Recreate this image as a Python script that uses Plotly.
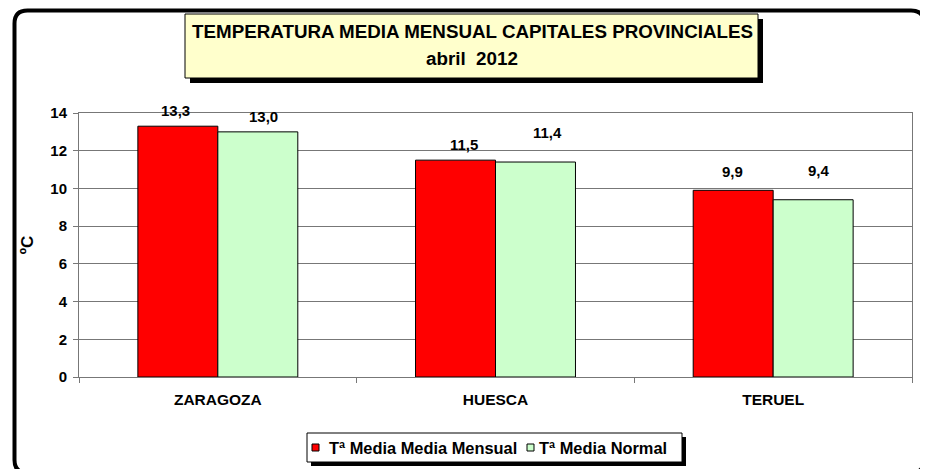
import plotly.graph_objects as go

# ---------------- data ----------------
categories = ["ZARAGOZA", "HUESCA", "TERUEL"]
media_mensual = [13.3, 11.5, 9.9]
media_normal = [13.0, 11.4, 9.4]
series_names = ["Tª Media Media Mensual", "Tª Media Normal"]
title_lines = ["TEMPERATURA MEDIA MENSUAL CAPITALES PROVINCIALES", "abril  2012"]
y_title = "ºC"
y_tickvals = [0, 2, 4, 6, 8, 10, 12, 14]

# ---------------- style ----------------
FONT = "Liberation Sans, Arial, sans-serif"
RED = "#FF0000"
GREEN = "#CCFFCC"
TITLE_FILL = "#FFFFCC"
GRID = "#777777"

OFF = 8  # page body margin
W, H = 920, 461
ML, MR, MT, MB = 71, 16, 105, 92
PW = W - ML - MR
PH = H - MT - MB


def px(x):
    """screen x -> paper"""
    return (x - OFF - ML) / PW


def py(y):
    """screen y -> paper"""
    return (H - MB - (y - OFF)) / PH


fig = go.Figure()
series = [media_mensual, media_normal]
colors = [RED, GREEN]
for vals, name, col in zip(series, series_names, colors):
    fig.add_trace(go.Bar(
        x=categories, y=vals, name=name,
        marker=dict(color=col, line=dict(color="black", width=1)),
        showlegend=False, hoverinfo="x+y",
    ))

# data labels (pixel nudges replicate the original placement)
bar_offset = [-40, 40]
label_dx = [[-2, 8, -1], [6, 12, 6]]
label_dy = [[16, 16, 19], [15, 30, 29]]
annotations = []
for s, vals in enumerate(series):
    for i, (cat, v) in enumerate(zip(categories, vals)):
        annotations.append(dict(
            x=cat, y=v, xref="x", yref="y",
            text=f"{v:.1f}".replace(".", ","),
            showarrow=False, xanchor="center", yanchor="middle",
            xshift=bar_offset[s] + label_dx[s][i], yshift=label_dy[s][i],
            font=dict(family=FONT, size=15, color="black", weight="bold"),
        ))

shapes = []

# outer rounded frame
x0, y0, x1, y1, r = 14.5, 10.5, 924, 473, 13
pts = [
    ("M", (x0 + r, y0)), ("L", (x1 - r, y0)), ("Q", (x1, y0), (x1, y0 + r)),
    ("L", (x1, y1 - r)), ("Q", (x1, y1), (x1 - r, y1)),
    ("L", (x0 + r, y1)), ("Q", (x0, y1), (x0, y1 - r)),
    ("L", (x0, y0 + r)), ("Q", (x0, y0), (x0 + r, y0)),
]
path = ""
for seg in pts:
    cmd = seg[0]
    coords = " ".join(f"{px(a):.5f},{py(b):.5f}" for a, b in seg[1:])
    path += f"{cmd}{coords} "
path += "Z"
shapes.append(dict(type="path", path=path, xref="paper", yref="paper",
                   line=dict(color="black", width=4), fillcolor="rgba(0,0,0,0)"))

# title box with shadow
tb = (185, 14, 758, 78)
sh = 5
shapes.append(dict(type="rect", xref="paper", yref="paper",
                   x0=px(tb[0] + sh), x1=px(tb[2] + sh), y0=py(tb[1] + sh), y1=py(tb[3] + sh),
                   fillcolor="black", line=dict(width=0)))
shapes.append(dict(type="rect", xref="paper", yref="paper",
                   x0=px(tb[0]), x1=px(tb[2]), y0=py(tb[1]), y1=py(tb[3]),
                   fillcolor=TITLE_FILL, line=dict(color="black", width=1)))
annotations.append(dict(x=px(472), y=py(31.5), xref="paper", yref="paper",
                        text=title_lines[0], showarrow=False,
                        xanchor="center", yanchor="middle",
                        font=dict(family=FONT, size=18.8, color="black", weight="bold")))
annotations.append(dict(x=px(472), y=py(59), xref="paper", yref="paper",
                        text=title_lines[1], showarrow=False,
                        xanchor="center", yanchor="middle",
                        font=dict(family=FONT, size=18.8, color="black", weight="bold")))

# custom legend box with shadow
lb = (307, 433, 682, 462)
ls = 4
shapes.append(dict(type="rect", xref="paper", yref="paper",
                   x0=px(lb[0] + ls), x1=px(lb[2] + ls), y0=py(lb[1] + ls), y1=py(lb[3] + ls),
                   fillcolor="black", line=dict(width=0)))
shapes.append(dict(type="rect", xref="paper", yref="paper",
                   x0=px(lb[0]), x1=px(lb[2]), y0=py(lb[1]), y1=py(lb[3]),
                   fillcolor="white", line=dict(color="black", width=1)))
sym_x = [312, 527]
txt_x = [327, 537]
for k in range(2):
    shapes.append(dict(type="rect", xref="paper", yref="paper",
                       x0=px(sym_x[k]), x1=px(sym_x[k] + 7), y0=py(444), y1=py(451),
                       fillcolor=colors[k], line=dict(color="black", width=1)))
    annotations.append(dict(x=px(txt_x[k]), y=py(447.5), xref="paper", yref="paper",
                            text=series_names[k], showarrow=False,
                            xanchor="left", yanchor="middle",
                            font=dict(family=FONT, size=16.4, color="black", weight="bold")))

fig.update_layout(
    width=W, height=H,
    margin=dict(l=ML, r=MR, t=MT, b=MB, pad=0),
    paper_bgcolor="white", plot_bgcolor="white",
    barmode="group", bargap=0.424, bargroupgap=0,
    font=dict(family=FONT, color="black"),
    shapes=shapes, annotations=annotations,
    showlegend=False,
)
fig.update_yaxes(
    range=[0, 14], tickvals=y_tickvals,
    showgrid=True, gridcolor=GRID, gridwidth=1, zeroline=False,
    showline=True, linecolor=GRID, linewidth=1, mirror=True,
    ticks="outside", ticklen=5, tickcolor=GRID,
    ticklabelstandoff=3,
    tickfont=dict(family=FONT, size=15, color="black", weight="bold"),
    title=dict(text=y_title, standoff=12,
               font=dict(family=FONT, size=17, color="black", weight="bold")),
)
fig.update_xaxes(
    showgrid=False, zeroline=False,
    showline=True, linecolor=GRID, linewidth=1, mirror=True,
    ticks="outside", ticklen=5, tickcolor=GRID, tickson="boundaries",
    ticklabelstandoff=8,
    tickfont=dict(family=FONT, size=15.5, color="black", weight="bold"),
)

fig.write_html("out.html")
